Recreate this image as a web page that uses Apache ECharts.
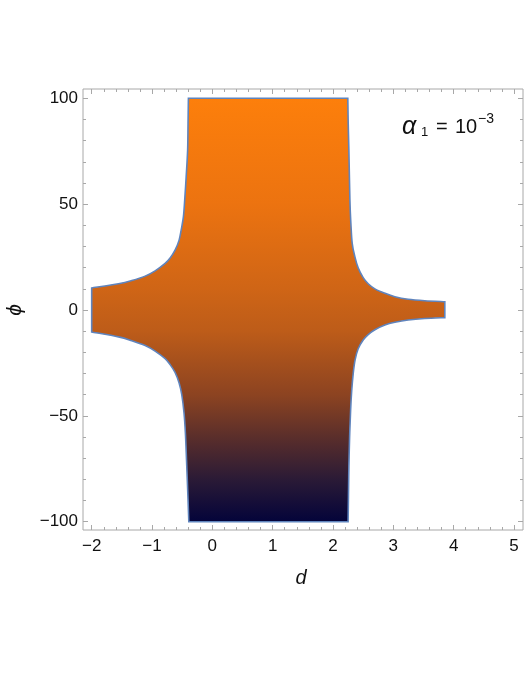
<!DOCTYPE html>
<html>
<head>
<meta charset="utf-8">
<script src="https://cdn.jsdelivr.net/npm/echarts@6/dist/echarts.min.js"></script>
<style>
html,body{margin:0;padding:0;background:#fff;}
#chart{width:525px;height:680px;}
</style>
</head>
<body>
<div id="chart"></div>
<script>
// ---- data (d, phi) ----
const leftUpper = [[-0.397,100],[-0.403,88],[-0.410,75.5],[-0.434,62.9],[-0.462,50.3],[-0.480,44],[-0.507,39.3],[-0.551,33],[-0.618,28.3],[-0.700,24.6],[-0.783,22],[-0.949,18.5],[-1.114,16],[-1.335,13.9],[-1.556,12.4],[-2.0,10.4]];
const leftLower = [[-2.0,-10.4],[-1.556,-12.7],[-1.335,-14.5],[-1.114,-16.8],[-0.949,-19.4],[-0.783,-23.0],[-0.700,-25.8],[-0.618,-29.5],[-0.551,-34.5],[-0.507,-40.0],[-0.470,-48.5],[-0.447,-58],[-0.428,-71],[-0.405,-88],[-0.390,-100]];
const rightLower = [[2.250,-100],[2.256,-88],[2.263,-74],[2.275,-60],[2.292,-47.2],[2.310,-38],[2.335,-29.9],[2.366,-23.6],[2.417,-18.3],[2.500,-14.2],[2.583,-11.6],[2.694,-9.3],[2.860,-7.1],[3.025,-5.8],[3.245,-4.7],[3.520,-4.0],[3.853,-3.6]];
const rightUpper = [[3.853,3.9],[3.520,4.4],[3.245,5.1],[3.025,6.3],[2.860,7.9],[2.694,10.0],[2.583,12.4],[2.500,15.3],[2.417,19.9],[2.363,25.1],[2.318,31.5],[2.296,40.9],[2.280,51.9],[2.263,75.5],[2.252,88],[2.245,100]];

const xMajor = [-2,-1,0,1,2,3,4,5];
const xMinor = [-2.0,-1.8,-1.6,-1.4,-1.2,-1.0,-0.8,-0.6,-0.4,-0.2,0.0,0.2,0.4,0.6,0.8,1.0,1.2,1.4,1.6,1.8,2.0,2.2,2.4,2.6,2.8,3.0,3.2,3.4,3.6,3.8,4.0,4.2,4.4,4.6,4.8,5.0];
const yMajor = [-100,-50,0,50,100];
const yMinor = [-100,-90,-80,-70,-60,-50,-40,-30,-20,-10,0,10,20,30,40,50,60,70,80,90,100];
const xLabel = 'd';
const yLabel = 'ϕ';

const sections = [leftUpper, leftLower, rightLower, rightUpper];
const boundary = [].concat(leftUpper, leftLower, rightLower, rightUpper);

const X_MIN = -2.144, X_MAX = 5.149, Y_MIN = -103.92, Y_MAX = 104.39;
const FRAME = '#a8a8a8';
const FONT = 'Liberation Sans, Arial, sans-serif';

function fmt(v){ return String(v).replace('-', '\u2212'); }

function xAx(pos, vals, len, labels){
  return {type:'value', min:X_MIN, max:X_MAX, position:pos,
    axisLine:{show:false, onZero:false}, splitLine:{show:false},
    axisTick:{show:true, inside:true, length:len, customValues:vals, lineStyle:{color:FRAME, width:1}},
    axisLabel:{show:labels, customValues:vals, formatter:fmt, color:'#111', fontSize:17, fontFamily:FONT, margin:8}};
}
function yAx(pos, vals, len, labels){
  return {type:'value', min:Y_MIN, max:Y_MAX, position:pos,
    axisLine:{show:false, onZero:false}, splitLine:{show:false},
    axisTick:{show:true, inside:true, length:len, customValues:vals, lineStyle:{color:FRAME, width:1}},
    axisLabel:{show:labels, customValues:vals, formatter:fmt, color:'#111', fontSize:17, fontFamily:FONT, margin:5}};
}

// smooth curve (Catmull-Rom -> cubic Bezier) through pixel points
function curvePath(pts){
  let s = '';
  for (let i = 0; i < pts.length - 1; i++){
    const p0 = pts[Math.max(i-1,0)], p1 = pts[i], p2 = pts[i+1], p3 = pts[Math.min(i+2, pts.length-1)];
    const c1 = [p1[0] + (p2[0]-p0[0])/6, p1[1] + (p2[1]-p0[1])/6];
    const c2 = [p2[0] - (p3[0]-p1[0])/6, p2[1] - (p3[1]-p1[1])/6];
    s += ' C' + c1[0].toFixed(2) + ' ' + c1[1].toFixed(2) + ' ' + c2[0].toFixed(2) + ' ' + c2[1].toFixed(2) + ' ' + p2[0].toFixed(2) + ' ' + p2[1].toFixed(2);
  }
  return s;
}

const chart = echarts.init(document.getElementById('chart'), null, {renderer:'canvas'});
chart.setOption({
  animation:false,
  backgroundColor:'#fff',
  grid:{left:83, top:89, width:440, height:441, show:true, borderColor:FRAME, borderWidth:1, backgroundColor:'transparent'},
  xAxis:[xAx('bottom', xMajor, 5, true), xAx('bottom', xMinor, 3, false), xAx('top', xMajor, 5, false), xAx('top', xMinor, 3, false)],
  yAxis:[yAx('left', yMajor, 5, true), yAx('left', yMinor, 3, false), yAx('right', yMajor, 5, false), yAx('right', yMinor, 3, false)],
  series:[{
    type:'custom', coordinateSystem:'cartesian2d', xAxisIndex:0, yAxisIndex:0,
    data: boundary,
    renderItem: function(params, api){
      if (params.dataIndex !== 0) return null;
      let d = '';
      sections.forEach(function(sec, k){
        const pts = sec.map(p => api.coord(p));
        d += (k === 0 ? 'M' : ' L') + pts[0][0].toFixed(2) + ' ' + pts[0][1].toFixed(2);
        d += curvePath(pts);
      });
      d += ' Z';
      return {
        type:'path',
        shape:{pathData:d},
        style:{
          fill: new echarts.graphic.LinearGradient(0,0,0,1,[
            {offset:0, color:'#fd7f0b'},
            {offset:0.25, color:'#ec7310'},
            {offset:0.45, color:'#cf6516'},
            {offset:0.55, color:'#bd5c19'},
            {offset:0.70, color:'#8c4321'},
            {offset:0.80, color:'#5a2e2b'},
            {offset:0.90, color:'#2a1a36'},
            {offset:1, color:'#03033a'}
          ]),
          stroke:'#5f84bd', lineWidth:1.6, lineJoin:'miter'
        }
      };
    }
  }],
  graphic:[
    {type:'text', x:301, y:578, style:{text:xLabel, font:'italic 20px '+FONT, fill:'#111', align:'center', verticalAlign:'middle'}},
    {type:'text', x:15, y:310, rotation:Math.PI/2, style:{text:yLabel, font:'italic 21px '+FONT, fill:'#111', align:'center', verticalAlign:'middle'}},
    {type:'text', x:402, y:127, style:{text:'α', font:'italic 25px '+FONT, fill:'#111', align:'left', verticalAlign:'middle'}},
    {type:'text', x:421, y:132, style:{text:'1', font:'13px '+FONT, fill:'#111', align:'left', verticalAlign:'middle'}},
    {type:'text', x:436, y:127, style:{text:'=', font:'20px '+FONT, fill:'#111', align:'left', verticalAlign:'middle'}},
    {type:'text', x:455, y:127, style:{text:'10', font:'20px '+FONT, fill:'#111', align:'left', verticalAlign:'middle'}},
    {type:'text', x:478, y:119, style:{text:'\u22123', font:'14px '+FONT, fill:'#111', align:'left', verticalAlign:'middle'}}
  ]
});
</script>
</body>
</html>
